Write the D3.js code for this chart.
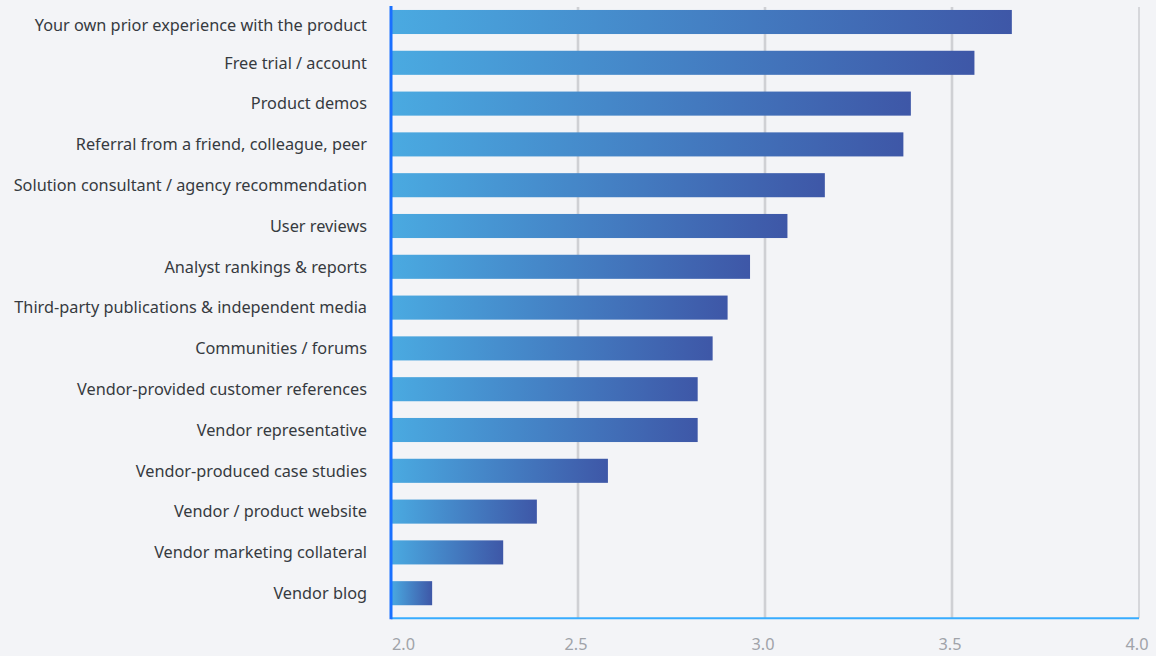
<!DOCTYPE html>
<html>
<head>
<meta charset="utf-8">
<script src="https://cdn.jsdelivr.net/npm/d3@7/dist/d3.min.js"></script>
<style>
  html, body { margin: 0; padding: 0; background: #f3f4f7; }
  svg { display: block; }
</style>
</head>
<body>
<svg id="chart" width="1156" height="656"></svg>
<script>
// Information sources, ranked by average rating
const categories = [
  "Your own prior experience with the product",
  "Free trial / account",
  "Product demos",
  "Referral from a friend, colleague, peer",
  "Solution consultant / agency recommendation",
  "User reviews",
  "Analyst rankings & reports",
  "Third-party publications & independent media",
  "Communities / forums",
  "Vendor-provided customer references",
  "Vendor representative",
  "Vendor-produced case studies",
  "Vendor / product website",
  "Vendor marketing collateral",
  "Vendor blog"
];
const values = [3.66, 3.56, 3.39, 3.37, 3.16, 3.06, 2.96, 2.90, 2.86, 2.82, 2.82, 2.58, 2.39, 2.30, 2.11];
const tickValues = [2.0, 2.5, 3.0, 3.5, 4.0];

const svg = d3.select("#chart");
const font = "'Noto Sans', 'Open Sans', sans-serif";

const x = d3.scaleLinear().domain([2, 4]).range([391, 1139]);
const y = d3.scaleBand().domain(categories).range([1.8, 613.4])
  .paddingInner(0.41).paddingOuter(0.2);

const plotTop = 6, plotBottom = 618.3;

// per-bar horizontal gradient
const defs = svg.append("defs");
const grad = defs.append("linearGradient").attr("id", "barGrad")
  .attr("x1", "0%").attr("x2", "100%").attr("y1", "0%").attr("y2", "0%");
grad.append("stop").attr("offset", "0%").attr("stop-color", "#4aaae1");
grad.append("stop").attr("offset", "100%").attr("stop-color", "#3e57a7");

// vertical gridlines
svg.append("g").selectAll("line")
  .data(tickValues.filter(d => d > 2))
  .join("line")
  .attr("x1", d => x(d)).attr("x2", d => x(d))
  .attr("y1", plotTop + 1).attr("y2", plotBottom)
  .attr("stroke", "#cfd0d4")
  .attr("stroke-width", d => d === 4 ? 1.6 : 2.6);

// bars
svg.append("g").selectAll("rect")
  .data(categories)
  .join("rect")
  .attr("x", x(2))
  .attr("y", d => y(d))
  .attr("width", (d, i) => x(values[i]) - x(2))
  .attr("height", y.bandwidth())
  .attr("fill", "url(#barGrad)");

// category labels (kept clear of the top edge)
svg.append("g").selectAll("text")
  .data(categories)
  .join("text")
  .attr("x", 367)
  .attr("y", d => Math.max(y(d) + y.bandwidth() / 2, 25.5))
  .attr("dy", "0.35em")
  .attr("text-anchor", "end")
  .attr("fill", "#363a40")
  .style("font-family", font)
  .style("font-size", "16.3px")
  .text(d => d);

// bottom axis line
svg.append("line")
  .attr("x1", x(2)).attr("x2", x(4))
  .attr("y1", plotBottom).attr("y2", plotBottom)
  .attr("stroke", "#37acff").attr("stroke-width", 2);

// left axis line
svg.append("line")
  .attr("x1", x(2)).attr("x2", x(2))
  .attr("y1", plotTop).attr("y2", plotBottom + 1)
  .attr("stroke", "#1a70ff").attr("stroke-width", 3);

// tick labels
svg.append("g").selectAll("text")
  .data(tickValues)
  .join("text")
  .attr("x", d => d === 2 ? x(d) + 1 : x(d) - 2)
  .attr("y", 649.5)
  .attr("text-anchor", d => d === 2 ? "start" : "middle")
  .attr("fill", "#a0a3a9")
  .style("font-family", font)
  .style("font-size", "16.3px")
  .text(d => d3.format(".1f")(d));
</script>
</body>
</html>
